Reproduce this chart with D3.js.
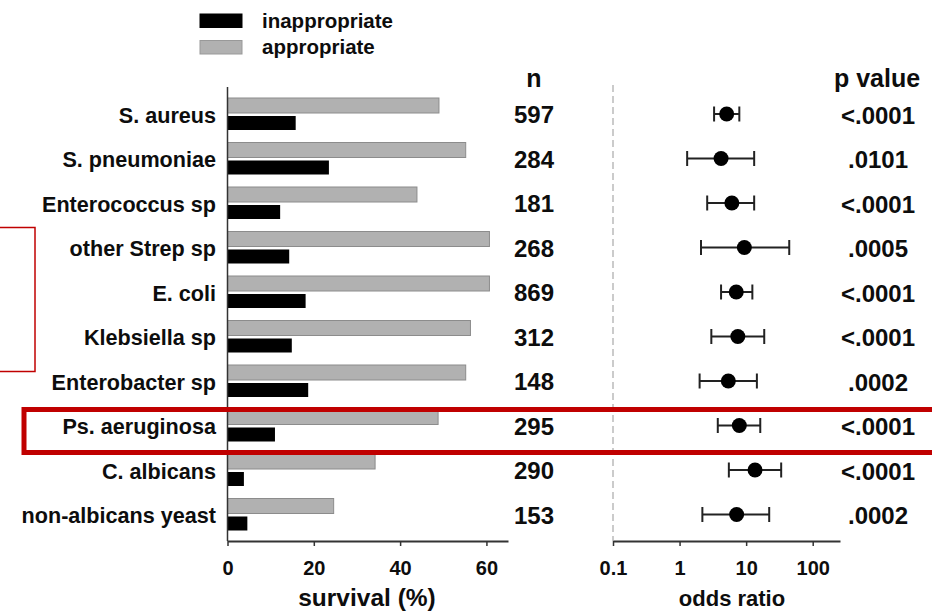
<!DOCTYPE html>
<html>
<head>
<meta charset="utf-8">
<script src="https://cdn.jsdelivr.net/npm/d3@7/dist/d3.min.js"></script>
<style>
  html, body { margin: 0; padding: 0; background: #fff; }
  svg { display: block; font-family: "Liberation Sans", Arial, Helvetica, sans-serif; font-weight: bold; }
</style>
</head>
<body>
<svg id="chart" width="932" height="612"></svg>
<script>
// Pathogens, top to bottom
const categories = ["S. aureus", "S. pneumoniae", "Enterococcus sp", "other Strep sp", "E. coli",
  "Klebsiella sp", "Enterobacter sp", "Ps. aeruginosa", "C. albicans", "non-albicans yeast"];

// Survival (%) by antimicrobial therapy
const appropriate   = [49.0, 55.2, 43.9, 60.7, 60.7, 56.3, 55.2, 48.8, 34.2, 24.6];
const inappropriate = [15.8, 23.5, 12.2, 14.3, 18.1, 14.9, 18.7, 11.0, 3.8, 4.6];

// Number of patients per pathogen
const nValues = ["597", "284", "181", "268", "869", "312", "148", "295", "290", "153"];

// Odds ratios with 95% confidence limits
const orEst  = [5.1, 4.2, 6.1, 9.4, 7.1, 7.5, 5.4, 7.9, 13.6, 7.2];
const orLow  = [3.3, 1.3, 2.6, 2.1, 4.2, 3.0, 2.0, 3.75, 5.5, 2.2];
const orHigh = [7.9, 13.2, 13.2, 44.4, 12.4, 18.7, 14.5, 16.3, 33.6, 22.2];

const pValues = ["<.0001", ".0101", "<.0001", ".0005", "<.0001", "<.0001", ".0002", "<.0001", "<.0001", ".0002"];

// Axis ticks
const survivalTicks = [0, 20, 40, 60];
const oddsTicks = [0.1, 1, 10, 100];
const oddsTickLabels = ["0.1", "1", "10", "100"];

const legendItems = ["inappropriate", "appropriate"];

const svg = d3.select("#chart");
const RED = "#c00000";
const GREY = "#b1b1b1";
const INK = "#0d0d0d";

// Scales
const y = d3.scaleBand().domain(categories).range([91.75, 536.75]);
const xBar = d3.scaleLinear().domain([0, 65]).range([227.5, 508]);
const xOr = d3.scaleLog().domain([0.1, 257]).range([613, 840]);
const baseY = 541;
const cy = c => y(c) + y.bandwidth() / 2;

// Legend
const legendColor = d3.scaleOrdinal().domain(legendItems).range(["#000", GREY]);
const leg = svg.append("g");
legendItems.forEach((k, i) => {
  leg.append("rect").attr("x", 200).attr("y", 14 + i * 26.5).attr("width", 42).attr("height", 13.5)
    .attr("fill", legendColor(k)).attr("stroke", i ? "#999" : "#000").attr("stroke-width", 1);
  leg.append("text").attr("x", 262).attr("y", 28 + i * 25.5).attr("font-size", 20.5)
    .attr("fill", INK).text(k);
});

// Bars: appropriate (grey, upper) and inappropriate (black, lower)
svg.append("g").selectAll("rect").data(categories).join("rect")
  .attr("x", xBar(0)).attr("y", d => cy(d) - 16)
  .attr("width", (d, i) => xBar(appropriate[i]) - xBar(0)).attr("height", 15)
  .attr("fill", GREY).attr("stroke", "#8c8c8c").attr("stroke-width", 1);
svg.append("g").selectAll("rect").data(categories).join("rect")
  .attr("x", xBar(0)).attr("y", d => cy(d) + 2)
  .attr("width", (d, i) => xBar(inappropriate[i]) - xBar(0)).attr("height", 14)
  .attr("fill", "#000");

// Category labels
svg.append("g").selectAll("text").data(categories).join("text")
  .attr("x", 216).attr("y", d => cy(d) + 8.5).attr("text-anchor", "end")
  .attr("font-size", 21.6).attr("fill", INK).text(d => d);

// Vertical axis line of the bar panel
svg.append("line").attr("x1", xBar(0)).attr("x2", xBar(0)).attr("y1", 87).attr("y2", baseY)
  .attr("stroke", "#333").attr("stroke-width", 1.5);

// Survival axis
const gx = svg.append("g").attr("transform", `translate(0,${baseY})`)
  .call(d3.axisBottom(xBar).tickValues(survivalTicks).tickSize(5).tickSizeOuter(0).tickPadding(0));
gx.select(".domain").attr("stroke", "#333").attr("stroke-width", 2);
gx.selectAll(".tick line").attr("stroke", "#333").attr("stroke-width", 1.5);
gx.selectAll(".tick text").attr("font-size", 20).attr("font-family", null).attr("fill", INK)
  .attr("dy", null).attr("y", 34);
svg.append("text").attr("x", 367).attr("y", 606).attr("text-anchor", "middle")
  .attr("font-size", 24.5).attr("fill", INK).text("survival (%)");

// n column
svg.append("text").attr("x", 534).attr("y", 87).attr("text-anchor", "middle")
  .attr("font-size", 25).attr("fill", INK).text("n");
svg.append("g").selectAll("text").data(categories).join("text")
  .attr("x", 534).attr("y", d => cy(d) + 9.3).attr("text-anchor", "middle")
  .attr("font-size", 24).attr("fill", INK).text((d, i) => nValues[i]);

// Reference line at the left end of the odds-ratio axis
svg.append("line").attr("x1", xOr(0.1)).attr("x2", xOr(0.1)).attr("y1", 85).attr("y2", baseY)
  .attr("stroke", "#bbb").attr("stroke-width", 1.5).attr("stroke-dasharray", "7,4");

// Odds-ratio axis
const go = svg.append("g").attr("transform", `translate(0,${baseY})`)
  .call(d3.axisBottom(xOr).tickValues(oddsTicks).tickFormat((d, i) => oddsTickLabels[i])
    .tickSize(5).tickSizeOuter(0).tickPadding(0));
go.select(".domain").attr("stroke", "#333").attr("stroke-width", 2);
go.selectAll(".tick line").attr("stroke", "#333").attr("stroke-width", 1.5);
go.selectAll(".tick text").attr("font-size", 20).attr("font-family", null).attr("fill", INK)
  .attr("dy", null).attr("y", 34);
svg.append("text").attr("x", 732).attr("y", 606).attr("text-anchor", "middle")
  .attr("font-size", 22).attr("fill", INK).text("odds ratio");

// Forest plot: confidence intervals, caps and point estimates
const forest = svg.append("g").selectAll("g").data(categories).join("g");
forest.append("line")
  .attr("x1", (d, i) => xOr(orLow[i])).attr("x2", (d, i) => xOr(orHigh[i]))
  .attr("y1", cy).attr("y2", cy).attr("stroke", "#222").attr("stroke-width", 2);
forest.append("line")
  .attr("x1", (d, i) => xOr(orLow[i])).attr("x2", (d, i) => xOr(orLow[i]))
  .attr("y1", d => cy(d) - 7.5).attr("y2", d => cy(d) + 7.5).attr("stroke", "#222").attr("stroke-width", 2);
forest.append("line")
  .attr("x1", (d, i) => xOr(orHigh[i])).attr("x2", (d, i) => xOr(orHigh[i]))
  .attr("y1", d => cy(d) - 7.5).attr("y2", d => cy(d) + 7.5).attr("stroke", "#222").attr("stroke-width", 2);
forest.append("circle")
  .attr("cx", (d, i) => xOr(orEst[i])).attr("cy", cy).attr("r", 7.5).attr("fill", "#000");

// p value column
svg.append("text").attr("x", 877).attr("y", 87).attr("text-anchor", "middle")
  .attr("font-size", 25).attr("fill", INK).text("p value");
svg.append("g").selectAll("text").data(categories).join("text")
  .attr("x", 878).attr("y", d => cy(d) + 9.8).attr("text-anchor", "middle")
  .attr("font-size", 24).attr("fill", INK).text((d, i) => pValues[i]);

// Highlight boxes
svg.append("rect").attr("x", -5).attr("y", 227.5).attr("width", 40).attr("height", 144)
  .attr("fill", "none").attr("stroke", RED).attr("stroke-width", 1.5);
svg.append("rect").attr("x", 24).attr("y", 409.5).attr("width", 930).attr("height", 43)
  .attr("fill", "none").attr("stroke", RED).attr("stroke-width", 5);
</script>
</body>
</html>
